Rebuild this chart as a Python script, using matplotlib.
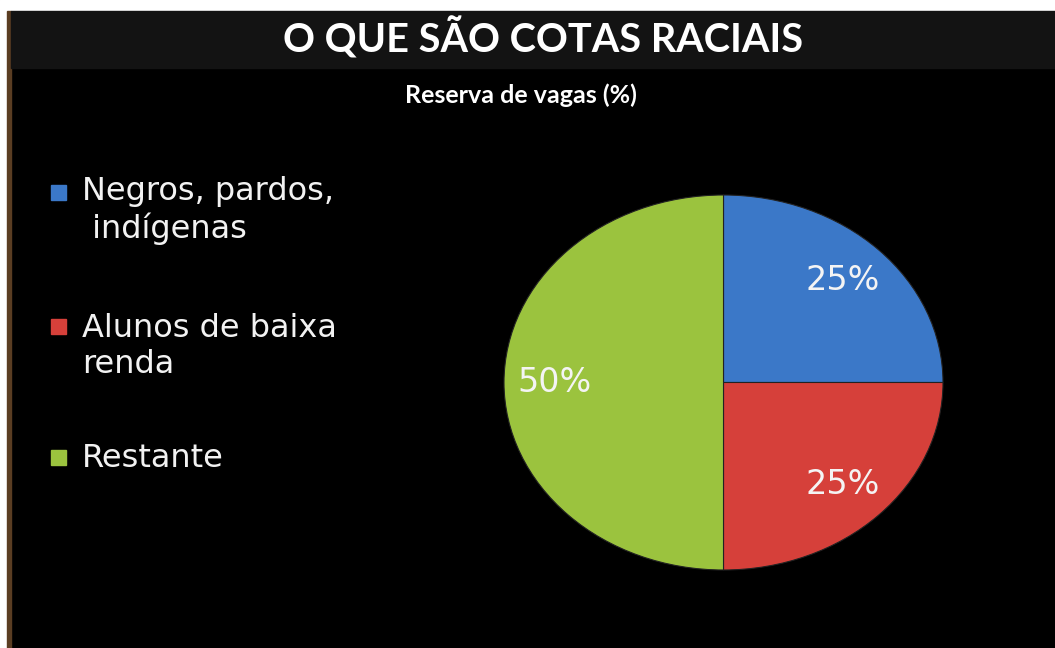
import matplotlib.pyplot as plt
from matplotlib.patches import Rectangle

title = 'O QUE SÃO COTAS RACIAIS'
subtitle = 'Reserva de vagas (%)'
categories = ['Negros, pardos,\n indígenas', 'Alunos de baixa\nrenda', 'Restante']
values = [25, 25, 50]
colors = ['#3b78c8', '#d6403a', '#9bc33e']

W, H = 1055, 648
fig = plt.figure(figsize=(W / 100, H / 100), dpi=100, facecolor='black')


def fx(px):
    return px / W


def fy(py):
    return 1 - py / H


# frame of the slide: white strip on top/left, brown edge, grey title band
fig.add_artist(Rectangle((0, fy(11)), 1, 11 / H, transform=fig.transFigure, color='white', zorder=0))
fig.add_artist(Rectangle((0, 0), fx(7), 1, transform=fig.transFigure, color='white', zorder=0))
fig.add_artist(Rectangle((fx(7), 0), fx(4), fy(11), transform=fig.transFigure, color='#5a3d22', zorder=0))
fig.add_artist(Rectangle((fx(11), fy(68)), 1, (68 - 11) / H, transform=fig.transFigure, color='#131313', zorder=0))

fig.text(fx(543), fy(52), title, ha='center', va='baseline', fontfamily='Lato',
         fontweight='bold', fontsize=28.5, color='white')
fig.text(fx(521), fy(103), subtitle, ha='center', va='baseline', fontfamily='Lato',
         fontweight='bold', fontsize=18, color='white')

# pie (stretched horizontally like the original)
ax = fig.add_axes([fx(504), fy(570), fx(943) - fx(504), (570 - 195) / H])
wedges, texts, autotexts = ax.pie(values, colors=colors, startangle=90, counterclock=False,
                                  autopct='%d%%', pctdistance=0.77,
                                  wedgeprops=dict(edgecolor='#222222', linewidth=0.8),
                                  textprops=dict(color='#f4f4f4', fontsize=24))
ax.set_aspect('auto')
ax.set_xlim(-1, 1)
ax.set_ylim(-1, 1)
ax.set_facecolor('black')

# legend drawn by hand so the square sits next to the first line
first_baselines = [202, 336, 467]
last_baselines = [238, 373, 467]
for cat, col, yb, yl in zip(categories, colors, first_baselines, last_baselines):
    fig.add_artist(Rectangle((fx(51), fy(yb - 2)), fx(15), 15 / H,
                             transform=fig.transFigure, color=col))
    fig.text(fx(82), fy(yl), cat, ha='left', va='baseline', fontsize=23,
             color='#f2f2f2', linespacing=1.2)

fig.savefig('out.png', dpi=100, facecolor=fig.get_facecolor())
